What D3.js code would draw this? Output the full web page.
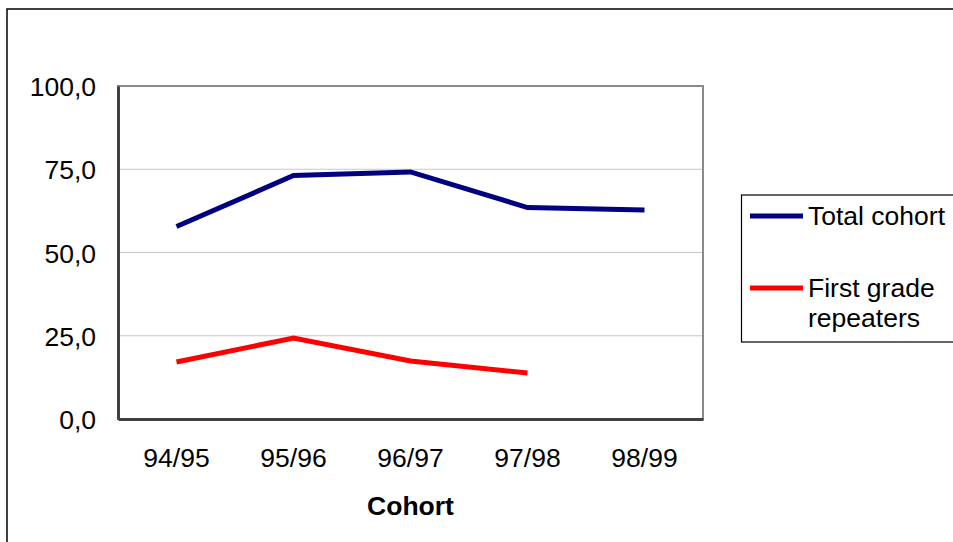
<!DOCTYPE html>
<html>
<head>
<meta charset="utf-8">
<script src="https://cdn.jsdelivr.net/npm/d3@7"></script>
<style>
  body { margin: 0; background: #fff; }
  svg { display: block; font-family: "Liberation Sans", Arial, sans-serif; }
</style>
</head>
<body>
<div id="chart"></div>
<script>
// data
const cohorts = ["94/95", "95/96", "96/97", "97/98", "98/99"];
const totalCohort = [57.8, 73.1, 74.2, 63.5, 62.8];
const firstGradeRepeaters = [17.1, 24.3, 17.4, 13.8];
const yTicks = [0, 25, 50, 75, 100];

const W = 953, H = 542;
const plot = { left: 118, top: 86, right: 703, bottom: 419 };
const fontSize = 26.5;

const svg = d3.select("#chart").append("svg")
    .attr("width", W)
    .attr("height", H);

// outer chart border (runs off the right/bottom edge)
svg.append("rect")
    .attr("x", 7).attr("y", 9)
    .attr("width", W + 10).attr("height", H + 10)
    .attr("fill", "none")
    .attr("stroke", "#000")
    .attr("stroke-width", 1.5);

const x = d3.scaleBand()
    .domain(cohorts)
    .range([plot.left, plot.right]);

const y = d3.scaleLinear()
    .domain([0, 100])
    .range([plot.bottom, plot.top]);

// gridlines
svg.append("g")
    .selectAll("line")
    .data(yTicks.filter(d => d > 0 && d < 100))
    .join("line")
    .attr("x1", plot.left).attr("x2", plot.right)
    .attr("y1", d => y(d)).attr("y2", d => y(d))
    .attr("stroke", "#c8c8c8")
    .attr("stroke-width", 1);

// plot area frame
svg.append("rect")
    .attr("x", plot.left).attr("y", plot.top)
    .attr("width", plot.right - plot.left)
    .attr("height", plot.bottom - plot.top)
    .attr("fill", "none")
    .attr("stroke", "#8a8a8a")
    .attr("stroke-width", 2);

// Y axis
const yAxis = svg.append("g")
    .attr("transform", `translate(${plot.left},0)`)
    .call(d3.axisLeft(y).tickValues(yTicks).tickSize(0).tickPadding(22)
        .tickFormat(d => d3.format(".1f")(d).replace(".", ",")));
yAxis.select(".domain").attr("stroke", "#404040").attr("stroke-width", 3);
yAxis.selectAll("text").attr("font-size", fontSize).attr("fill", "#000")
    .attr("dy", "0.36em")
    .attr("font-family", "Liberation Sans, Arial, sans-serif");

// X axis
const xAxis = svg.append("g")
    .attr("transform", `translate(0,${plot.bottom})`)
    .call(d3.axisBottom(x).tickSize(0).tickPadding(29));
xAxis.select(".domain").attr("stroke", "#404040").attr("stroke-width", 3);
xAxis.selectAll("text").attr("font-size", fontSize).attr("fill", "#000")
    .attr("font-family", "Liberation Sans, Arial, sans-serif");

svg.append("text")
    .attr("x", x("96/97") + x.bandwidth() / 2)
    .attr("y", 515)
    .attr("text-anchor", "middle")
    .attr("font-size", fontSize)
    .attr("font-weight", "bold")
    .text("Cohort");

const line = d3.line()
    .x((d, i) => x(cohorts[i]) + x.bandwidth() / 2)
    .y(d => y(d));

svg.append("path")
    .datum(totalCohort)
    .attr("fill", "none")
    .attr("stroke", "#000080")
    .attr("stroke-width", 5)
    .attr("d", line);

svg.append("path")
    .datum(firstGradeRepeaters)
    .attr("fill", "none")
    .attr("stroke", "#ff0000")
    .attr("stroke-width", 5)
    .attr("d", line);

// legend
const legendData = [
    { lines: ["Total cohort"], color: "#000080", y: 216 },
    { lines: ["First grade", "repeaters"], color: "#ff0000", y: 288 }
];

svg.append("rect")
    .attr("x", 741.5).attr("y", 195)
    .attr("width", 260).attr("height", 147)
    .attr("fill", "#fff")
    .attr("stroke", "#000")
    .attr("stroke-width", 1.2);

const legend = svg.selectAll(".legend")
    .data(legendData)
    .join("g")
    .attr("class", "legend");

legend.append("line")
    .attr("x1", 750).attr("x2", 803)
    .attr("y1", d => d.y).attr("y2", d => d.y)
    .attr("stroke", d => d.color)
    .attr("stroke-width", 5);

legend.append("text")
    .attr("x", 808)
    .attr("y", d => d.y + 9)
    .attr("font-size", fontSize)
    .selectAll("tspan")
    .data(d => d.lines)
    .join("tspan")
    .attr("x", 808)
    .attr("dy", (d, i) => i === 0 ? 0 : 30)
    .text(d => d);
</script>
</body>
</html>
